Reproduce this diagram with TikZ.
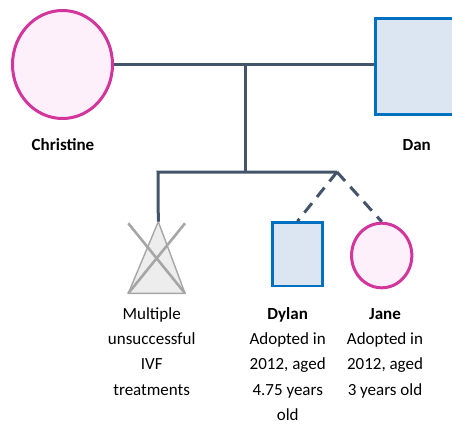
\documentclass[tikz,border=0pt]{standalone}
\usepackage{fontspec}
\setmainfont{Carlito}
\usetikzlibrary{shapes.geometric}
\definecolor{femline}{HTML}{D2359B}
\definecolor{femfill}{HTML}{FDF0FB}
\definecolor{maleline}{HTML}{0070C0}
\definecolor{malefill}{HTML}{DCE6F2}
\definecolor{linkline}{HTML}{44546A}
\definecolor{ivfline}{HTML}{A6A6A6}
\definecolor{ivffill}{HTML}{EDEDED}
\begin{document}
\begin{tikzpicture}[x=1pt,y=-1pt,
  female/.style={ellipse, draw=femline, fill=femfill, line width=3pt, inner sep=0pt},
  male/.style={rectangle, draw=maleline, fill=malefill, line width=3pt, inner sep=0pt},
  link/.style={draw=linkline, line width=3pt},
  adopt/.style={link, dash pattern=on 12pt off 8pt},
  ivfcross/.style={draw=ivfline, line width=2.6pt},
  perslabel/.style={font=\fontsize{17}{25.3}\selectfont\bfseries, inner sep=0pt, anchor=base},
  caption/.style={font=\fontsize{17}{25.3}\selectfont, align=center, inner sep=0pt, anchor=base}]

\useasboundingbox (0,0) rectangle (452,426);

% parents
\node[female, minimum width=100pt, minimum height=108pt] (christine) at (62.5,64.5) {};
\node[male, minimum width=83pt, minimum height=96pt] (dan) at (417,66) {};
\node[perslabel] (christinelbl) at (63,150.5) {Christine};
\node[perslabel] (danlbl) at (416.7,150.5) {Dan};

% marriage line and descent line
\coordinate (union) at (245.5,64.5);
\coordinate (sibmid) at (245.5,172);
\coordinate (sibL) at (158,172);
\coordinate (sibR) at (337,172);
\draw[link] (christine.east) -- (christine.east -| dan.west);
\draw[link] (union) -- (sibmid);

% failed IVF (crossed-out triangle)
\coordinate (ivf) at (158.3,221.7);
\coordinate (ivfBL) at (128.3,293.3);
\coordinate (ivfBR) at (185,293.3);
\draw[draw=ivfline, fill=ivffill, line width=1.4pt, line join=miter] (ivf) -- (ivfBR) -- (ivfBL) -- cycle;
\draw[ivfcross] (128.3,223.3) -- (185,293.3);
\draw[ivfcross] (185,223.3) -- (128.3,293.3);
\draw[link, line join=miter] (ivf) -- (sibL) -- (sibR);

% adopted children
\node[male, line width=2.7pt, minimum width=50.6pt, minimum height=63.3pt] (dylan) at (297.5,254.2) {};
\node[female, minimum width=60.3pt, minimum height=64.6pt] (jane) at (381.7,255.5) {};
\draw[adopt] (sibR) -- (dylan.north);
\draw[adopt] (sibR) -- (jane.north);

% captions (anchored on the baseline of their last line)
\node[caption] (ivflbl) at (151.7,395.2) {Multiple\\unsuccessful\\IVF\\treatments};
\node[caption] (dylanlbl) at (287.7,420.5) {\textbf{Dylan}\\Adopted in\\2012, aged\\4.75 years\\old};
\node[caption] (janelbl) at (385,395.2) {\textbf{Jane}\\Adopted in\\2012, aged\\3 years old};
\end{tikzpicture}
\end{document}
